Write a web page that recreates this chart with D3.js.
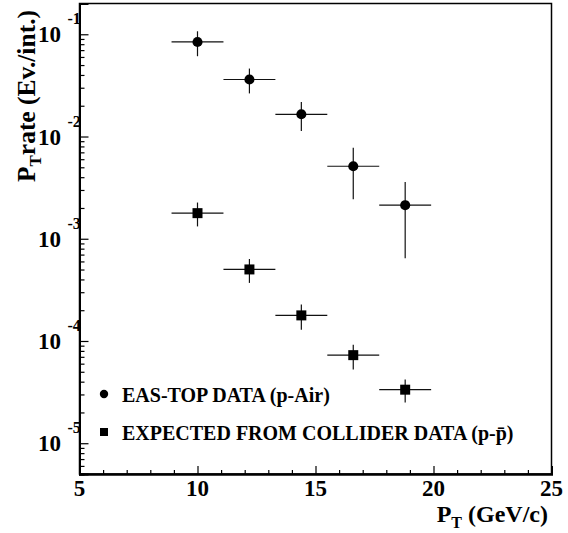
<!DOCTYPE html>
<html>
<head>
<meta charset="utf-8">
<script src="https://cdn.jsdelivr.net/npm/d3@7"></script>
<style>
body { margin: 0; background: #fff; }
svg { display: block; }
svg text { font-family: 'Liberation Serif', 'Times New Roman', serif; font-weight: bold; }
</style>
</head>
<body>
<div id="chart"></div>
<script>
const width = 568, height = 533;
const margin = { top: 3.5, right: 16.5, bottom: 59, left: 79.5 };
const innerWidth = width - margin.left - margin.right;
const innerHeight = height - margin.top - margin.bottom;

// bin centres and half widths (GeV/c)
const ptCenters = [10, 12.2, 14.4, 16.6, 18.8];
const ptHalfWidths = [1.1, 1.1, 1.1, 1.1, 1.1];

// EAS-TOP data (p-Air)
const easTopRate = [0.0841, 0.0361, 0.0165, 0.00512, 0.00213];
const easTopLow = [0.061, 0.0264, 0.0113, 0.00244, 0.000643];
const easTopHigh = [0.107, 0.0462, 0.0217, 0.00778, 0.0036];

// expected from collider data (p-pbar)
const colliderRate = [0.00178, 0.000501, 0.000178, 0.0000727, 0.0000334];
const colliderLow = [0.00132, 0.00037, 0.000129, 0.0000527, 0.000025];
const colliderHigh = [0.00226, 0.000634, 0.000227, 0.0000918, 0.0000419];

const xMajorTicks = [5, 10, 15, 20, 25];
const yMajorTicks = [1e-1, 1e-2, 1e-3, 1e-4, 1e-5];
const yExponents = ['-1', '-2', '-3', '-4', '-5'];
const legendLabels = ['EAS-TOP DATA (p-Air)', 'EXPECTED FROM COLLIDER DATA (p-p\u0304)'];

const svg = d3.select('#chart')
    .append('svg')
    .attr('width', width)
    .attr('height', height);

const g = svg.append('g')
    .attr('transform', `translate(${margin.left}, ${margin.top})`);

const xScale = d3.scaleLinear()
    .domain([5, 25])
    .range([0, innerWidth]);

const yScale = d3.scaleLog()
    .domain([5e-6, 0.2])
    .range([innerHeight, 0]);

// frame
g.append('rect')
    .attr('width', innerWidth)
    .attr('height', innerHeight)
    .attr('fill', 'none')
    .attr('stroke', '#000')
    .attr('stroke-width', 1.5);

// x ticks (pointing up from the bottom edge)
const xMinor = d3.range(6, 25).filter(d => d % 5 !== 0);
const xAxisG = g.append('g').attr('transform', `translate(0, ${innerHeight})`);
xAxisG.append('g')
    .call(d3.axisTop(xScale).tickValues(xMinor).tickSize(4).tickFormat(''));
xAxisG.append('g')
    .call(d3.axisTop(xScale).tickValues(xMajorTicks).tickSize(8).tickFormat(''));
xAxisG.selectAll('.domain').attr('stroke-width', 2);
xAxisG.selectAll('.tick line').attr('stroke-width', 1.2);

xAxisG.selectAll('.xlabel')
    .data(xMajorTicks)
    .enter()
    .append('text')
        .attr('class', 'xlabel')
        .attr('x', d => xScale(d))
        .attr('y', 22)
        .attr('text-anchor', 'middle')
        .attr('font-weight', 'bold')
        .style('font-size', '23px')
        .text(d => d);

// y ticks (pointing right from the left edge)
const yMinor = yScale.ticks().filter(d => !yMajorTicks.some(m => Math.abs(d / m - 1) < 1e-6));
const yAxisG = g.append('g');
yAxisG.append('g')
    .call(d3.axisRight(yScale).tickValues(yMinor).tickSize(5).tickFormat(''));
yAxisG.append('g')
    .call(d3.axisRight(yScale).tickValues(yMajorTicks).tickSize(9).tickFormat(''));
yAxisG.selectAll('.domain').attr('stroke-width', 2);
yAxisG.selectAll('.tick line').attr('stroke-width', 1.2);

yMajorTicks.forEach((v, i) => {
    yAxisG.append('text')
        .attr('x', -18.5)
        .attr('y', yScale(v) + 8)
        .attr('text-anchor', 'end')
        .attr('font-weight', 'bold')
        .style('font-size', '23px')
        .text('10');
    yAxisG.append('text')
        .attr('x', -12)
        .attr('y', yScale(v) - 10)
        .attr('text-anchor', 'start')
        .attr('font-weight', 'bold')
        .style('font-size', '16px')
        .text(yExponents[i]);
});

// axis titles
const xTitle = svg.append('text')
    .attr('x', 548)
    .attr('y', 522)
    .attr('text-anchor', 'end')
    .attr('font-weight', 'bold')
    .style('font-size', '24px');
xTitle.append('tspan').text('P');
xTitle.append('tspan').attr('dy', 6).style('font-size', '16px').text('T');
xTitle.append('tspan').attr('dy', -6).text(' (GeV/c)');

const yTitle = svg.append('text')
    .attr('transform', 'translate(35, 10) rotate(-90)')
    .attr('text-anchor', 'end')
    .attr('font-weight', 'bold')
    .style('font-size', '25.5px');
yTitle.append('tspan').text('P');
yTitle.append('tspan').attr('dy', 6).style('font-size', '17px').text('T');
yTitle.append('tspan').attr('dy', -6).text('rate (Ev./int.)');

// error bars + markers
function drawSeries(rate, low, high, shape) {
    const data = ptCenters.map((x, i) => ({
        x: x, dx: ptHalfWidths[i], y: rate[i], lo: low[i], hi: high[i]
    }));
    const s = g.append('g');
    s.selectAll('.hbar')
        .data(data)
        .enter()
        .append('line')
            .attr('x1', d => xScale(d.x - d.dx))
            .attr('x2', d => xScale(d.x + d.dx))
            .attr('y1', d => yScale(d.y))
            .attr('y2', d => yScale(d.y))
            .attr('stroke', '#111')
            .attr('stroke-width', 1.2);
    s.selectAll('.vbar')
        .data(data)
        .enter()
        .append('line')
            .attr('x1', d => xScale(d.x))
            .attr('x2', d => xScale(d.x))
            .attr('y1', d => yScale(d.lo))
            .attr('y2', d => yScale(d.hi))
            .attr('stroke', '#111')
            .attr('stroke-width', 1.2);
    s.selectAll('.marker')
        .data(data)
        .enter()
        .append('path')
            .attr('transform', d => `translate(${xScale(d.x)}, ${yScale(d.y)})`)
            .attr('d', d3.symbol().type(shape).size(shape === d3.symbolCircle ? 80 : 100))
            .attr('fill', '#000');
}

drawSeries(easTopRate, easTopLow, easTopHigh, d3.symbolCircle);
drawSeries(colliderRate, colliderLow, colliderHigh, d3.symbolSquare);

// legend
const legend = svg.append('g');
const legendShapes = [d3.symbolCircle, d3.symbolSquare];
const legendY = [394, 432];
legendLabels.forEach((label, i) => {
    legend.append('path')
        .attr('transform', `translate(104, ${legendY[i]})`)
        .attr('d', d3.symbol().type(legendShapes[i]).size(i === 0 ? 55 : 64))
        .attr('fill', '#000');
    legend.append('text')
        .attr('x', 122)
        .attr('y', legendY[i] + 8)
        .attr('font-weight', 'bold')
        .style('font-size', '20px')
        .text(label);
});
</script>
</body>
</html>
